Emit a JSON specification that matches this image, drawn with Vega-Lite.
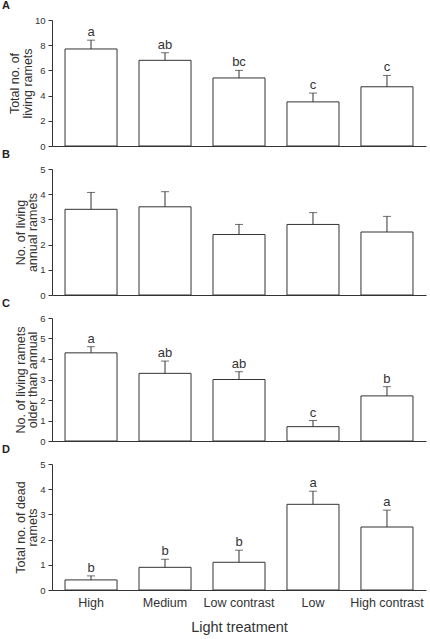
{
  "$schema": "https://vega.github.io/schema/vega-lite/v6.json",
  "padding": {"left": 2, "top": 0, "right": 1, "bottom": 2},
  "background": "white",
  "spacing": 23,
  "bounds": "flush",
  "config": {
    "font": "Liberation Sans",
    "view": {"stroke": null},
    "title": {"fontSize": 11, "fontWeight": "bold", "anchor": "start", "frame": "group", "offset": 0, "baseline": "alphabetic", "color": "#222", "font": "Liberation Sans"},
    "axis": {"labelFont": "Liberation Sans", "titleFont": "Liberation Sans", "labelColor": "#333", "titleColor": "#333", "domainColor": "#333", "tickColor": "#333", "titleFontWeight": "normal", "grid": false, "labelOverlap": false},
    "axisY": {"labelFontSize": 9.5, "titleFontSize": 12.5, "tickSize": 4, "labelPadding": 3, "titlePadding": 0, "titleLineHeight": 12.5, "labelOverlap": false, "labelSeparation": 0},
    "axisX": {"labelFontSize": 12.5, "titleFontSize": 14.5, "labelAngle": 0, "ticks": false, "labelPadding": 6, "titlePadding": 12}
  },
  "datasets": {
    "vals": [
      {"panel": "A", "treatment": "High", "mean": 7.7, "upper": 8.4, "letter": "a"},
      {"panel": "A", "treatment": "Medium", "mean": 6.8, "upper": 7.4, "letter": "ab"},
      {"panel": "A", "treatment": "Low contrast", "mean": 5.4, "upper": 6.0, "letter": "bc"},
      {"panel": "A", "treatment": "Low", "mean": 3.5, "upper": 4.2, "letter": "c"},
      {"panel": "A", "treatment": "High contrast", "mean": 4.7, "upper": 5.6, "letter": "c"},
      {"panel": "B", "treatment": "High", "mean": 3.4, "upper": 4.07, "letter": ""},
      {"panel": "B", "treatment": "Medium", "mean": 3.5, "upper": 4.1, "letter": ""},
      {"panel": "B", "treatment": "Low contrast", "mean": 2.4, "upper": 2.8, "letter": ""},
      {"panel": "B", "treatment": "Low", "mean": 2.8, "upper": 3.27, "letter": ""},
      {"panel": "B", "treatment": "High contrast", "mean": 2.5, "upper": 3.12, "letter": ""},
      {"panel": "C", "treatment": "High", "mean": 4.3, "upper": 4.6, "letter": "a"},
      {"panel": "C", "treatment": "Medium", "mean": 3.3, "upper": 3.9, "letter": "ab"},
      {"panel": "C", "treatment": "Low contrast", "mean": 3.0, "upper": 3.38, "letter": "ab"},
      {"panel": "C", "treatment": "Low", "mean": 0.7, "upper": 1.0, "letter": "c"},
      {"panel": "C", "treatment": "High contrast", "mean": 2.2, "upper": 2.65, "letter": "b"},
      {"panel": "D", "treatment": "High", "mean": 0.4, "upper": 0.56, "letter": "b"},
      {"panel": "D", "treatment": "Medium", "mean": 0.9, "upper": 1.22, "letter": "b"},
      {"panel": "D", "treatment": "Low contrast", "mean": 1.1, "upper": 1.58, "letter": "b"},
      {"panel": "D", "treatment": "Low", "mean": 3.4, "upper": 3.92, "letter": "a"},
      {"panel": "D", "treatment": "High contrast", "mean": 2.5, "upper": 3.17, "letter": "a"}
    ]
  },
  "vconcat": [
    {
      "title": {"text": "A", "dx": -50},
      "width": 374, "height": 126,
      "data": {"name": "vals"},
      "transform": [{"filter": "datum.panel === 'A'"}],
      "encoding": {
        "x": {"field": "treatment", "type": "nominal", "sort": ["High", "Medium", "Low contrast", "Low", "High contrast"], "scale": {"paddingInner": 0.297, "paddingOuter": 0.176}, "axis": {"labels": false, "title": null, "ticks": false}}
      },
      "layer": [
        {"mark": {"type": "bar", "fill": "white", "stroke": "#333", "strokeWidth": 1}, "encoding": {"y": {"field": "mean", "type": "quantitative", "scale": {"domain": [0, 10]}, "axis": {"values": [0, 2, 4, 6, 8, 10], "labelOverlap": false, "title": ["Total no. of", "living ramets"]}}}},
        {"mark": {"type": "rule", "color": "#333"}, "encoding": {"y": {"field": "mean", "type": "quantitative", "scale": {"domain": [0, 10]}, "axis": {"values": [0, 2, 4, 6, 8, 10], "labelOverlap": false, "title": ["Total no. of", "living ramets"]}}, "y2": {"field": "upper"}}},
        {"mark": {"type": "tick", "color": "#333", "size": 8, "thickness": 1, "orient": "horizontal"}, "encoding": {"y": {"field": "upper", "type": "quantitative", "scale": {"domain": [0, 10]}, "axis": {"values": [0, 2, 4, 6, 8, 10], "labelOverlap": false, "title": ["Total no. of", "living ramets"]}}}},
        {"mark": {"type": "text", "fontSize": 13, "color": "#333", "dy": -4, "baseline": "alphabetic"}, "encoding": {"y": {"field": "upper", "type": "quantitative", "scale": {"domain": [0, 10]}, "axis": {"values": [0, 2, 4, 6, 8, 10], "labelOverlap": false, "title": ["Total no. of", "living ramets"]}}, "text": {"field": "letter"}}}
      ]
    },
    {
      "title": {"text": "B", "dx": -50},
      "width": 374, "height": 126,
      "data": {"name": "vals"},
      "transform": [{"filter": "datum.panel === 'B'"}],
      "encoding": {
        "x": {"field": "treatment", "type": "nominal", "sort": ["High", "Medium", "Low contrast", "Low", "High contrast"], "scale": {"paddingInner": 0.297, "paddingOuter": 0.176}, "axis": {"labels": false, "title": null, "ticks": false}}
      },
      "layer": [
        {"mark": {"type": "bar", "fill": "white", "stroke": "#333", "strokeWidth": 1}, "encoding": {"y": {"field": "mean", "type": "quantitative", "scale": {"domain": [0, 5]}, "axis": {"values": [0, 1, 2, 3, 4, 5], "labelOverlap": false, "title": ["No. of living", "annual ramets"]}}}},
        {"mark": {"type": "rule", "color": "#333"}, "encoding": {"y": {"field": "mean", "type": "quantitative", "scale": {"domain": [0, 5]}, "axis": {"values": [0, 1, 2, 3, 4, 5], "labelOverlap": false, "title": ["No. of living", "annual ramets"]}}, "y2": {"field": "upper"}}},
        {"mark": {"type": "tick", "color": "#333", "size": 8, "thickness": 1, "orient": "horizontal"}, "encoding": {"y": {"field": "upper", "type": "quantitative", "scale": {"domain": [0, 5]}, "axis": {"values": [0, 1, 2, 3, 4, 5], "labelOverlap": false, "title": ["No. of living", "annual ramets"]}}}}
      ]
    },
    {
      "title": {"text": "C", "dx": -50},
      "width": 374, "height": 123,
      "data": {"name": "vals"},
      "transform": [{"filter": "datum.panel === 'C'"}],
      "encoding": {
        "x": {"field": "treatment", "type": "nominal", "sort": ["High", "Medium", "Low contrast", "Low", "High contrast"], "scale": {"paddingInner": 0.297, "paddingOuter": 0.176}, "axis": {"labels": false, "title": null, "ticks": false}}
      },
      "layer": [
        {"mark": {"type": "bar", "fill": "white", "stroke": "#333", "strokeWidth": 1}, "encoding": {"y": {"field": "mean", "type": "quantitative", "scale": {"domain": [0, 6]}, "axis": {"values": [0, 1, 2, 3, 4, 5, 6], "labelOverlap": false, "title": ["No. of living ramets", "older than annual"]}}}},
        {"mark": {"type": "rule", "color": "#333"}, "encoding": {"y": {"field": "mean", "type": "quantitative", "scale": {"domain": [0, 6]}, "axis": {"values": [0, 1, 2, 3, 4, 5, 6], "labelOverlap": false, "title": ["No. of living ramets", "older than annual"]}}, "y2": {"field": "upper"}}},
        {"mark": {"type": "tick", "color": "#333", "size": 8, "thickness": 1, "orient": "horizontal"}, "encoding": {"y": {"field": "upper", "type": "quantitative", "scale": {"domain": [0, 6]}, "axis": {"values": [0, 1, 2, 3, 4, 5, 6], "labelOverlap": false, "title": ["No. of living ramets", "older than annual"]}}}},
        {"mark": {"type": "text", "fontSize": 13, "color": "#333", "dy": -4, "baseline": "alphabetic"}, "encoding": {"y": {"field": "upper", "type": "quantitative", "scale": {"domain": [0, 6]}, "axis": {"values": [0, 1, 2, 3, 4, 5, 6], "labelOverlap": false, "title": ["No. of living ramets", "older than annual"]}}, "text": {"field": "letter"}}}
      ]
    },
    {
      "title": {"text": "D", "dx": -50},
      "width": 374, "height": 126,
      "data": {"name": "vals"},
      "transform": [{"filter": "datum.panel === 'D'"}],
      "encoding": {
        "x": {"field": "treatment", "type": "nominal", "sort": ["High", "Medium", "Low contrast", "Low", "High contrast"], "scale": {"paddingInner": 0.297, "paddingOuter": 0.176}, "axis": {"title": "Light treatment", "ticks": false}}
      },
      "layer": [
        {"mark": {"type": "bar", "fill": "white", "stroke": "#333", "strokeWidth": 1}, "encoding": {"y": {"field": "mean", "type": "quantitative", "scale": {"domain": [0, 5]}, "axis": {"values": [0, 1, 2, 3, 4, 5], "labelOverlap": false, "title": ["Total no. of dead", "ramets"]}}}},
        {"mark": {"type": "rule", "color": "#333"}, "encoding": {"y": {"field": "mean", "type": "quantitative", "scale": {"domain": [0, 5]}, "axis": {"values": [0, 1, 2, 3, 4, 5], "labelOverlap": false, "title": ["Total no. of dead", "ramets"]}}, "y2": {"field": "upper"}}},
        {"mark": {"type": "tick", "color": "#333", "size": 8, "thickness": 1, "orient": "horizontal"}, "encoding": {"y": {"field": "upper", "type": "quantitative", "scale": {"domain": [0, 5]}, "axis": {"values": [0, 1, 2, 3, 4, 5], "labelOverlap": false, "title": ["Total no. of dead", "ramets"]}}}},
        {"mark": {"type": "text", "fontSize": 13, "color": "#333", "dy": -4, "baseline": "alphabetic"}, "encoding": {"y": {"field": "upper", "type": "quantitative", "scale": {"domain": [0, 5]}, "axis": {"values": [0, 1, 2, 3, 4, 5], "labelOverlap": false, "title": ["Total no. of dead", "ramets"]}}, "text": {"field": "letter"}}}
      ]
    }
  ]
}
